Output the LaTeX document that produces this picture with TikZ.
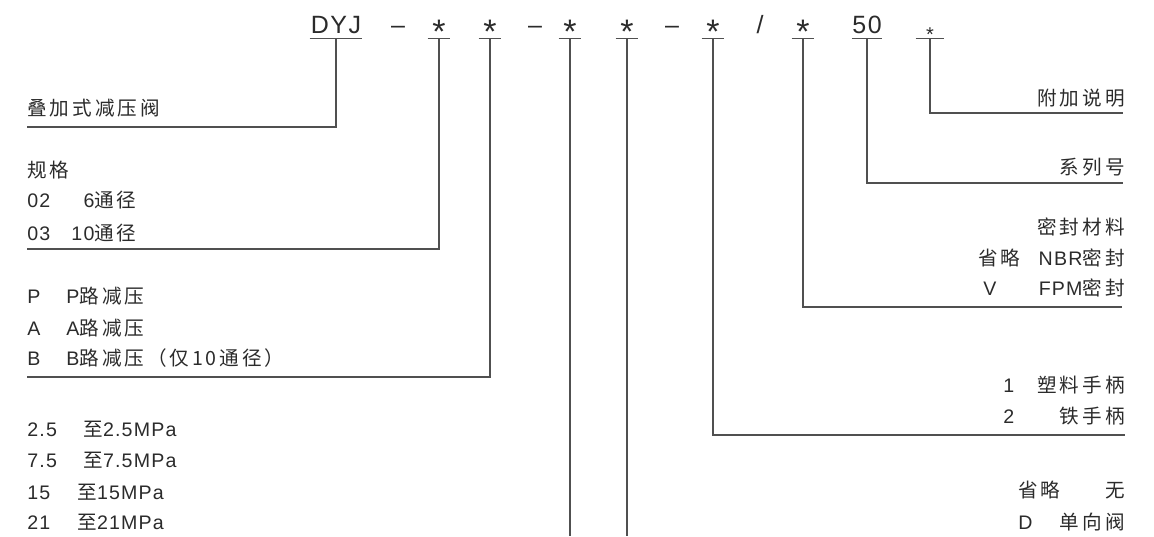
\documentclass[tikz,border=0pt]{standalone}
\usepackage{fontspec}
\setmainfont{Liberation Sans}[LetterSpace=6]
\newfontfamily\cjk{Noto Sans CJK SC}[LetterSpace=15]
\newcommand\zh[1]{{\cjk #1}}
\newcommand\bigstar{{\fontsize{17}{17}\selectfont\raisebox{-5pt}{*}}}
\definecolor{inkgray}{HTML}{2B2B2B}
\definecolor{rulegray}{HTML}{505050}

\begin{document}
\begin{tikzpicture}[x=0.5pt,y=-0.5pt,
  every node/.style={inner sep=0pt,text=inkgray},
  code/.style={font=\fontsize{12.5}{15}\selectfont,anchor=base,text depth=0pt,inner ysep=2.5pt,minimum width=11pt},
  item/.style={font=\fontsize{9.8}{12}\selectfont,anchor=base west},
  itemr/.style={item,anchor=base east},
  lead/.style={draw=rulegray,line width=0.7pt}]
  \useasboundingbox (0,0) rectangle (1154,536);
  % model code
  \node[code,minimum width=26pt] (dyj) at (336,33) {DYJ};
  \node[code] (d1) at (398,33) {–};
  \node[code] (s1) at (439,33) {\bigstar};
  \node[code] (s2) at (490,33) {\bigstar};
  \node[code] (d2) at (535,33) {–};
  \node[code] (s3) at (570,33) {\bigstar};
  \node[code] (s4) at (627,33) {\bigstar};
  \node[code] (d3) at (672,33) {–};
  \node[code] (s5) at (713,33) {\bigstar};
  \node[code] (sl) at (760,33) {/};
  \node[code] (s6) at (803,33) {\bigstar};
  \node[code] (n50) at (867,33) {50};
  \node[code,minimum width=14pt] (sa) at (930,33) {\raisebox{-4pt}{\fontsize{10}{10}\selectfont*}};
  \foreach \t in {dyj,s1,s2,s3,s4,s5,s6,n50,sa}
    \draw[lead] (\t.south west) -- (\t.south east);

  % left column
  \node[item] (type) at (27,115) {\zh{叠加式减压阀}};
  \node[item] (spec) at (27,177) {\zh{规格}};
  \foreach \y/\k/\v [count=\i] in {207/02/6\zh{通径},240/03/10\zh{通径}}{
    \node[item] (spec\i) at (27,\y) {\k};
    \node[itemr] (spec\i v) at (137,\y) {\v};}
  \foreach \y/\k/\v [count=\i] in {303/P/P\zh{路减压},335/A/A\zh{路减压},365/B/B\zh{路减压（仅10通径）}}{
    \node[item] (port\i) at (27,\y) {\k};
    \node[item] (port\i v) at (66,\y) {\v};}
  \foreach \y/\k/\x/\v [count=\i] in {436/2.5/83/2.5,467/7.5/83/7.5,499/15/77/15,529/21/77/21}{
    \node[item] (pres\i) at (27,\y) {\k};
    \node[item] (pres\i v) at (\x,\y) {\zh{至}\v MPa};}

  % right column
  \node[itemr] (note) at (1125,105) {\zh{附加说明}};
  \node[itemr] (series) at (1125,174) {\zh{系列号}};
  \node[itemr] (seal) at (1125,234) {\zh{密封材料}};
  \node[item] (seal1) at (978,265) {\zh{省略}};
  \node[itemr] (seal1v) at (1125,265) {NBR\zh{密封}};
  \node[item] (seal2) at (983,295) {V};
  \node[itemr] (seal2v) at (1125,295) {FPM\zh{密封}};
  \foreach \y/\k/\v [count=\i] in {392/1/塑料手柄,423/2/铁手柄}{
    \node[item] (grip\i) at (1003,\y) {\k};
    \node[itemr] (grip\i v) at (1125,\y) {\zh{\v}};}
  \node[item] (chk1) at (1018,497) {\zh{省略}};
  \node[itemr] (chk1v) at (1125,497) {\zh{无}};
  \node[item] (chk2) at (1018,529) {D};
  \node[itemr] (chk2v) at (1125,529) {\zh{单向阀}};

  % leader ends
  \coordinate (typeEnd) at (27,127);
  \coordinate (specEnd) at (27,249);
  \coordinate (portEnd) at (27,377);
  \coordinate (presEnd) at (570,536);
  \coordinate (chkEnd) at (627,536);
  \coordinate (gripEnd) at (1125,435);
  \coordinate (sealEnd) at (1122,307);
  \coordinate (seriesEnd) at (1123,183);
  \coordinate (noteEnd) at (1123,113);

  \draw[lead] (dyj.south) |- (typeEnd);
  \draw[lead] (s1.south) |- (specEnd);
  \draw[lead] (s2.south) |- (portEnd);
  \draw[lead] (s3.south) -- (presEnd);
  \draw[lead] (s4.south) -- (chkEnd);
  \draw[lead] (s5.south) |- (gripEnd);
  \draw[lead] (s6.south) |- (sealEnd);
  \draw[lead] (n50.south) |- (seriesEnd);
  \draw[lead] (sa.south) |- (noteEnd);
\end{tikzpicture}
\end{document}
